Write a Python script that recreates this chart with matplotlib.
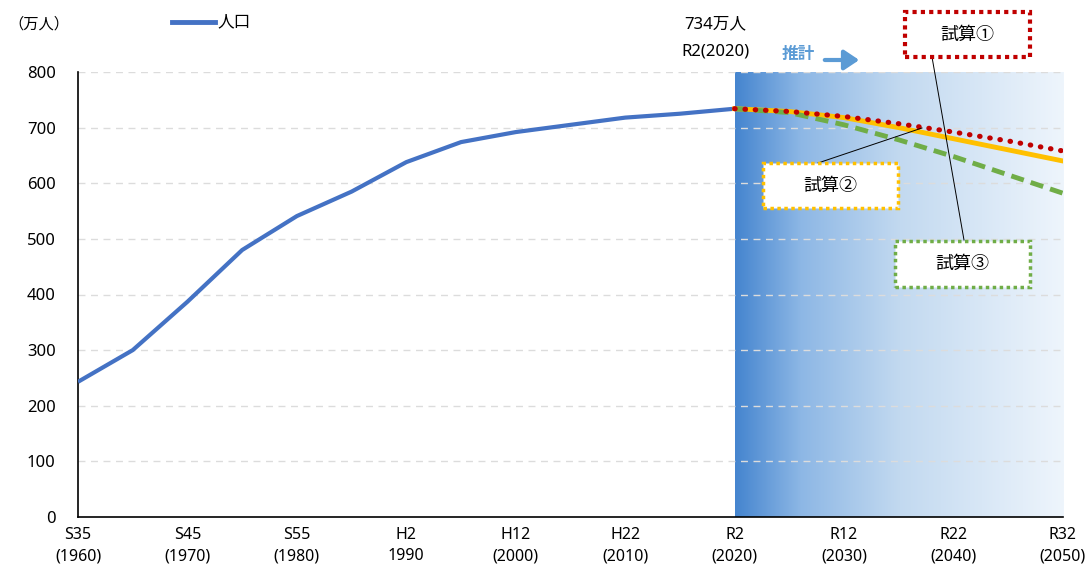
import numpy as np
import matplotlib
matplotlib.use("Agg")
import matplotlib.pyplot as plt
from matplotlib.colors import LinearSegmentedColormap
from matplotlib.patches import Rectangle, FancyArrowPatch

plt.rcParams['font.family'] = ['Noto Sans', 'Noto Sans CJK JP', 'DejaVu Sans']

# data (万人)
years = [1960, 1965, 1970, 1975, 1980, 1985, 1990, 1995, 2000, 2005, 2010, 2015, 2020]
pop = [243, 300, 387, 480, 541, 585, 638, 674, 692, 705, 718, 725, 734]

proj_years = [2020, 2025, 2030, 2035, 2040, 2045, 2050]
trial1 = [734, 729, 720, 707, 692, 676, 658]
trial2 = [734, 729, 718, 700, 680, 660, 640]
trial3 = [734, 727, 705, 678, 648, 615, 582]

tick_years = [1960, 1970, 1980, 1990, 2000, 2010, 2020, 2030, 2040, 2050]
tick_labels = ["S35\n(1960)", "S45\n(1970)", "S55\n(1980)", "H2\n1990", "H12\n(2000)",
               "H22\n(2010)", "R2\n(2020)", "R12\n(2030)", "R22\n(2040)", "R32\n(2050)"]

W, H = 1090, 565
fig = plt.figure(figsize=(W / 100, H / 100), dpi=100)
ax = fig.add_axes([78 / W, 1 - 517 / H, (1063 - 78) / W, (517 - 72) / H])

# gradient for projection period
cmap = LinearSegmentedColormap.from_list(
    "proj", [(0, "#4585cf"), (0.2, "#8db7e5"), (0.5, "#c2d9f0"), (1, "#eef5fc")])
grad = np.linspace(0, 1, 256).reshape(1, -1)
ax.imshow(grad, cmap=cmap, aspect="auto", extent=[2020, 2050, 0, 800], zorder=0)

for v in range(100, 801, 100):
    ax.axhline(v, color="#dcdcdc", lw=1, ls=(0, (5, 4)), zorder=1)

ax.plot(years, pop, color="#4472c4", lw=3, zorder=3, solid_capstyle="butt")
ax.plot(proj_years, trial2, color="#ffc000", lw=3.5, zorder=3)
ax.plot(proj_years, trial3, color="#70ad47", lw=3.5, ls=(0, (2.7, 1.5)), zorder=4)
ax.plot(proj_years, trial1, color="#c00000", lw=3.7, ls=(0, (0.1, 1.9)), dash_capstyle="round", zorder=5)

ax.set_xlim(1960, 2050)
ax.set_ylim(0, 800)
ax.set_yticks(range(0, 801, 100))
ax.set_xticks(tick_years)
ax.set_xticklabels(tick_labels, fontsize=11.5, linespacing=1.45)
ax.tick_params(axis="y", labelsize=12, length=0, pad=16)
ax.tick_params(axis="x", length=0, pad=7)
for s in ["top", "right"]:
    ax.spines[s].set_visible(False)
ax.spines["left"].set_linewidth(1.2)
ax.spines["bottom"].set_linewidth(1.2)

# texts outside axes (figure pixel coordinates)
def px(x, y):
    return x / W, 1 - y / H

fig.text(*px(8, 25), "（万人）", fontsize=11, va="center", ha="left")
fig.add_artist(plt.Line2D([172 / W, 215 / W], [1 - 22 / H] * 2, color="#4472c4", lw=3.5))
fig.text(*px(217, 22), "人口", fontsize=12, va="center", ha="left")

fig.text(*px(715, 24), "734万人", fontsize=12, va="center", ha="center")
fig.text(*px(715, 52), "R2(2020)", fontsize=12, va="center", ha="center")
fig.text(*px(798, 55), "推計", fontsize=12, va="center", ha="center", color="#5b9bd5", fontweight="bold")
fig.add_artist(FancyArrowPatch(px(822, 60), px(862, 60), transform=fig.transFigure,
                               arrowstyle="-|>,head_length=6,head_width=4",
                               color="#5b9bd5", lw=3, mutation_scale=1.5))

def box(x0, y0, x1, y1, label, color, lw):
    fig.add_artist(Rectangle(px(x0, y1), (x1 - x0) / W, (y1 - y0) / H, transform=fig.transFigure,
                             facecolor="white", edgecolor=color, lw=lw, ls=(0, (1, 1)), zorder=10))
    fig.text(*px((x0 + x1) / 2, (y0 + y1) / 2), label, fontsize=13, ha="center", va="center", zorder=11)

# leader lines
fig.add_artist(plt.Line2D([932 / W, 964 / W], [1 - 57 / H, 1 - 240 / H], color="black", lw=0.7, zorder=9))
fig.add_artist(plt.Line2D([818 / W, 922 / W], [1 - 163 / H, 1 - 128 / H], color="black", lw=0.7, zorder=9))

box(905, 12, 1030, 57, "試算①", "#c00000", 3)
box(763, 163, 898, 208, "試算②", "#ffc000", 2.5)
box(895, 241, 1030, 287, "試算③", "#70ad47", 2.5)

fig.savefig("out.png", dpi=100)
